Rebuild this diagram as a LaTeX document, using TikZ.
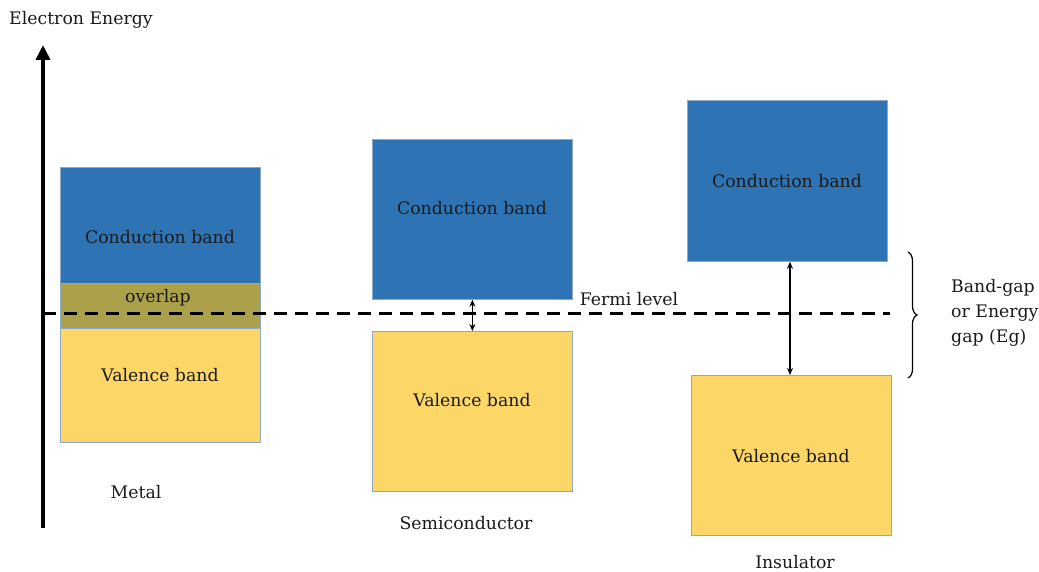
\documentclass[tikz,border=0pt]{standalone}
\usepackage{fontspec}
\setmainfont{DejaVu Serif}
\usetikzlibrary{arrows.meta,decorations.pathreplacing}
\definecolor{cband}{HTML}{2E74B5}
\definecolor{vband}{HTML}{FCD768}
\definecolor{oband}{HTML}{ABA14B}
\definecolor{bedge}{HTML}{8FA8C6}
\definecolor{txt}{HTML}{1A1A1A}
\tikzset{
  band/.style={draw=bedge, line width=0.8pt, inner sep=0pt, anchor=north west},
  lbl/.style={inner sep=0pt, text=txt, font=\fontsize{17.3}{25}\selectfont},
  gaparrow/.style={{Stealth[length=7pt,width=6pt]}-{Stealth[length=7pt,width=6pt]}, line width=1.2pt},
}
\begin{document}
\begin{tikzpicture}[x=1pt,y=-1pt]
\useasboundingbox (0,0) rectangle (1039,572);
% axis
\coordinate (ax0) at (43,528);
\coordinate (ax1) at (43,45);
\draw[line width=4pt, -{Triangle[length=15pt,width=14pt]}] (ax0) -- (ax1);
\node[lbl, anchor=west] (ee) at (9,20) {Electron Energy};
% metal
\node[band, fill=cband, minimum width=200pt, minimum height=116pt] (mc) at (60,167) {};
\node[lbl] at (160,237) {Conduction band};
\node[band, fill=oband, minimum width=200pt, minimum height=45pt] (mo) at (60,283) {};
\node[lbl] at (158,298) {overlap};
\node[band, fill=vband, minimum width=200pt, minimum height=114pt] (mv) at (60,328) {};
\node[lbl] at (160,375) {Valence band};
\node[lbl] (metal) at (136,492) {Metal};
% semiconductor
\node[band, fill=cband, minimum width=200pt, minimum height=160pt] (sc) at (372,139) {};
\node[lbl] at (472,208) {Conduction band};
\node[band, fill=vband, minimum width=200pt, minimum height=160pt] (sv) at (372,331) {};
\node[lbl] at (472,400) {Valence band};
\node[lbl] (semi) at (466,523) {Semiconductor};
\draw[gaparrow] (sc.south) -- (sv.north);
% insulator
\node[band, fill=cband, minimum width=200pt, minimum height=161pt] (ic) at (687,100) {};
\node[lbl] at (787,181) {Conduction band};
\node[band, fill=vband, minimum width=200pt, minimum height=160pt] (iv) at (691,375) {};
\node[lbl] at (791,456) {Valence band};
\node[lbl] (ins) at (795,562) {Insulator};
\draw[gaparrow] (ic.south -| 790,0) -- (iv.north -| 790,0);
% fermi level
\coordinate (f0) at (43,313);
\coordinate (f1) at (890,313);
\draw[line width=3pt, dash pattern=on 13pt off 8pt] (f0) -- (f1);
\node[lbl] (fermi) at (629,299) {Fermi level};
% brace
\coordinate (b0) at (908,252);
\coordinate (b1) at (908,378);
\draw[line width=1.2pt, decorate, decoration={brace, amplitude=9pt}] (b0) -- (b1);
\node[lbl, anchor=west, align=left] (bg) at (951,313) {Band-gap\\or Energy\\gap (Eg)};
\end{tikzpicture}
\end{document}
